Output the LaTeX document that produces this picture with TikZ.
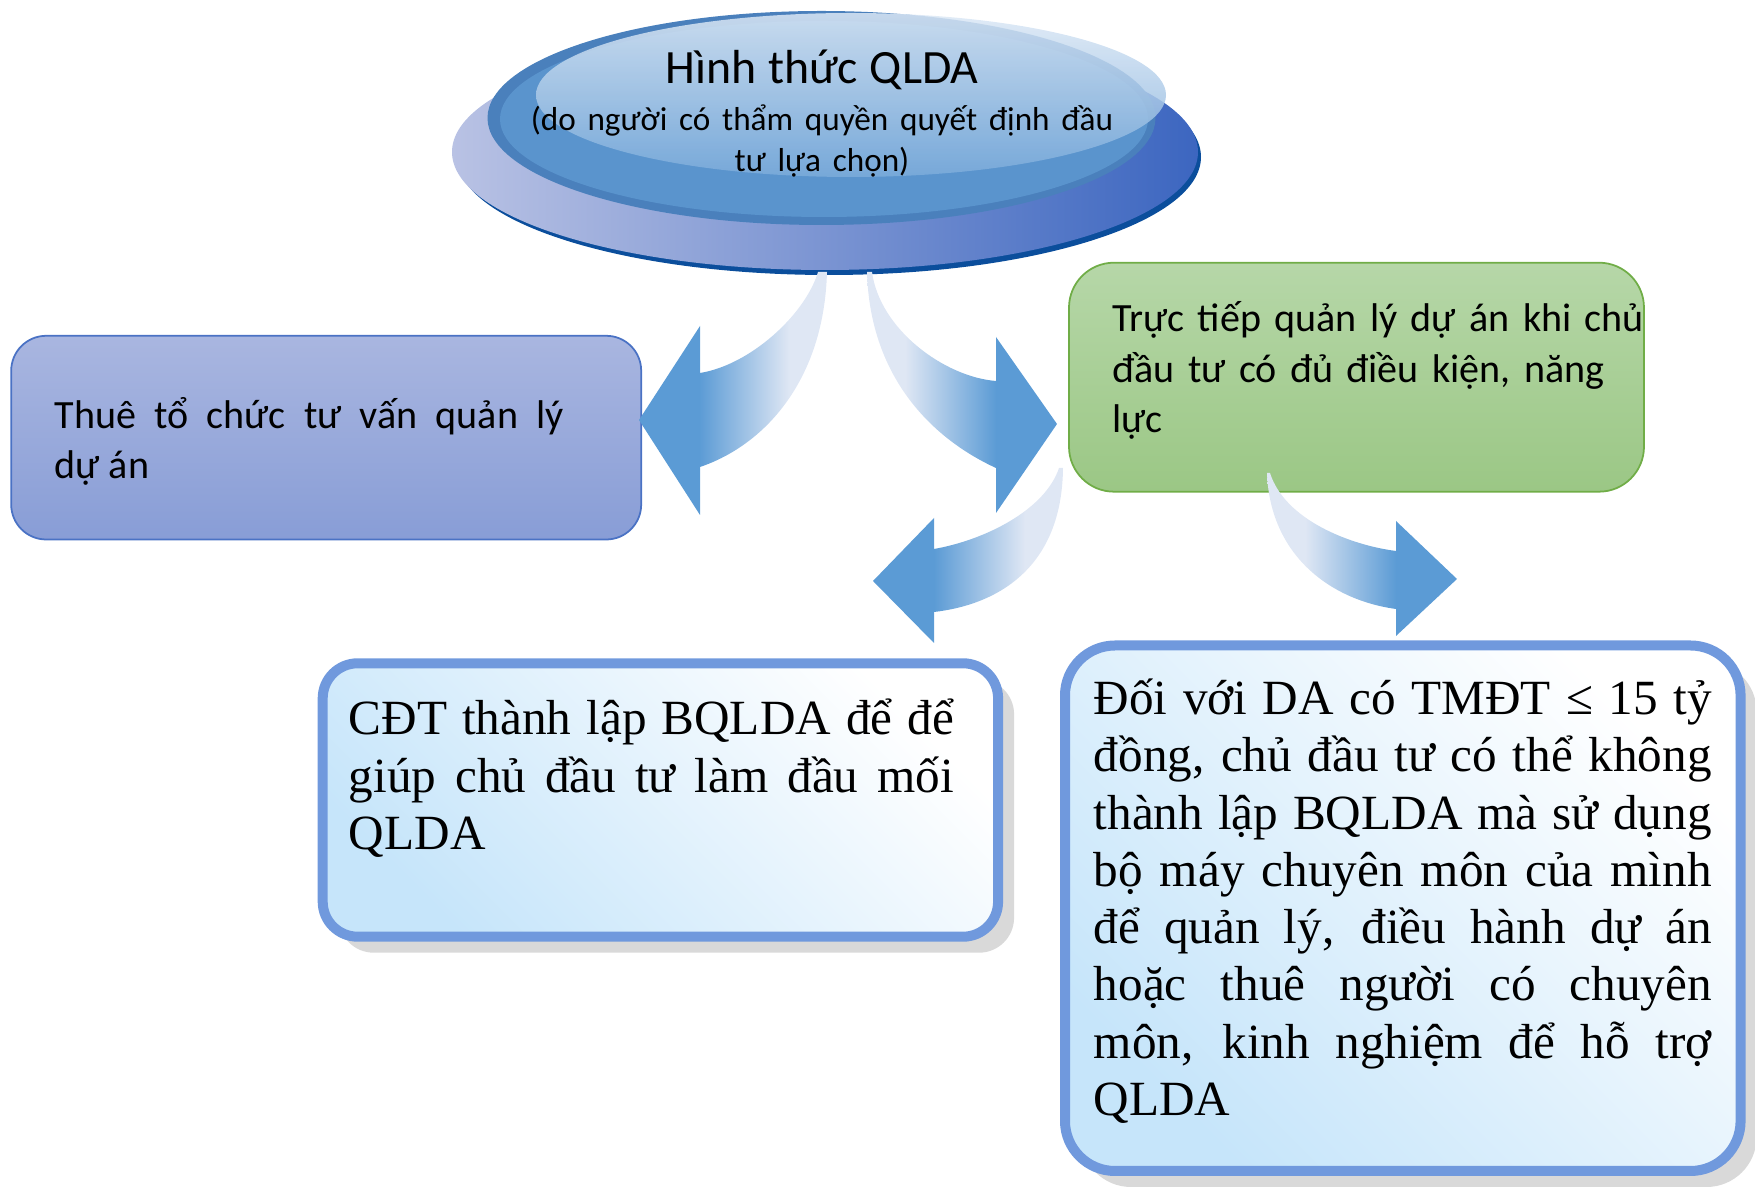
\documentclass[tikz,border=0pt]{standalone}
\usepackage{fontspec}
\setmainfont{Liberation Serif}
\newfontfamily\carlito{Carlito}
\usetikzlibrary{shadows}
\hyphenpenalty=10000
\tolerance=10000

\definecolor{arrhead}{HTML}{5B9BD5}
\definecolor{arrtail}{HTML}{DFE7F4}
\definecolor{lilac}{HTML}{A9B6E0}
\definecolor{lilacdark}{HTML}{889DD6}
\definecolor{lilacline}{HTML}{4A72C4}
\definecolor{leaf}{HTML}{B6D7A8}
\definecolor{leafdark}{HTML}{9BC785}
\definecolor{leafline}{HTML}{70AD47}
\definecolor{frame}{HTML}{7099DD}
\definecolor{icy}{HTML}{C6E5FA}
\definecolor{navy}{HTML}{0B4E9C}
\definecolor{discl}{HTML}{B9C2E4}
\definecolor{discr}{HTML}{3C66C0}
\definecolor{ring}{HTML}{4A80BC}
\definecolor{disc}{HTML}{5A94CD}
\definecolor{glowtop}{HTML}{DCE8F5}
\definecolor{glowbot}{HTML}{7CACDB}

\pgfdeclarehorizontalshading{arrleft}{100bp}{color(0bp)=(arrhead); color(41bp)=(arrhead); color(65bp)=(arrtail); color(100bp)=(arrtail)}
\pgfdeclarehorizontalshading{arrright}{100bp}{color(0bp)=(arrtail); color(35bp)=(arrtail); color(59bp)=(arrhead); color(100bp)=(arrhead)}

\begin{document}
\begin{tikzpicture}[x=0.1mm, y=-0.1mm,
    calib/.style={font=\carlito\fontsize{11.4pt}{14.4pt}\selectfont},
    roman/.style={font=\fontsize{14pt}{16.3pt}\selectfont},
    softbox/.style={draw=#1, line width=0.5pt, anchor=text, inner ysep=0pt, align=justify, calib},
    framebox/.style={draw=frame, line width=1mm, anchor=text, inner ysep=0pt, align=justify, roman,
        top color=white, bottom color=icy, shading angle=-45,
        drop shadow={shadow xshift=1.6mm, shadow yshift=-1.6mm, fill=black!15, opacity=1}}
]
\useasboundingbox (0,0) rectangle (1755,1189);

\fill[navy] (829,157) ellipse [x radius=37.2mm, y radius=11.8mm];
\shade[left color=discl, right color=discr] (825,152) ellipse [x radius=37.3mm, y radius=11.8mm];
\fill[ring] (821.5,118) ellipse [x radius=33.4mm, y radius=10.7mm];
\fill[disc] (824,119) ellipse [x radius=32.4mm, y radius=9.8mm];
\shade[top color=glowtop, bottom color=glowbot, opacity=.85] (851,95) ellipse [x radius=31.5mm, y radius=8.2mm];
\node[anchor=text, text width=70mm, align=center, inner sep=0pt, font=\carlito] (head) at (472,84)
    {\fontsize{13.6pt}{14pt}\selectfont Hình thức QLDA\\ \fontsize{9.45pt}{13.2pt}\selectfont (do người có thẩm quyền quyết định đầu\\[-0.4pt] tư lựa chọn)};

\node[softbox=lilacline, top color=lilac, bottom color=lilacdark, rounded corners=3.5mm,
    text width=54.3mm, inner xsep=4.35mm, text height=9.25mm, text depth=11.12mm] (hire) at (54.7,428.3)
    {\parbox[t]{50.9mm}{Thuê tổ chức tư vấn quản lý\linebreak dự án}};
\node[softbox=leafline, top color=leaf, bottom color=leafdark, rounded corners=4.5mm, align=left,
    text width=48.8mm, inner xsep=4.35mm, text height=6.9mm, text depth=16mm] (self) at (1112.5,331.7)
    {\makebox[\linewidth][l]{Trực tiếp quản lý dự án khi chủ}\\ \makebox[\linewidth][l]{đầu tư có đủ điều kiện, năng}\\ lực};
\node[framebox, rounded corners=3.5mm, text width=62.3mm, inner xsep=2.62mm,
    text height=7.17mm, text depth=20.17mm] (board) at (348.9,735)
    {\parbox[t]{60.5mm}{CĐT thành lập BQLDA để để\linebreak giúp chủ đầu tư làm đầu mối\linebreak QLDA}};
\node[framebox, rounded corners=5mm, text width=61.8mm, inner xsep=2.88mm,
    text height=6.9mm, text depth=45.65mm] (own) at (1093.8,714.5)
    {Đối với DA có TMĐT ≤ 15 tỷ\linebreak đồng, chủ đầu tư có thể không\linebreak thành lập BQLDA mà sử dụng\linebreak bộ máy chuyên môn của mình\linebreak để quản lý, điều hành dự án\linebreak hoặc thuê người có chuyên\linebreak môn, kinh nghiệm để hỗ trợ\linebreak QLDA};

\shade[shading=arrleft] (818,272) .. controls (805,315) and (750,365) .. (700,373) -- (700,326) -- (639,420)
    -- (700,515) -- (700,467) .. controls (765,445) and (824,380) .. (827,272) -- cycle;
\shade[shading=arrright] (872,272) .. controls (880,330) and (945,377) .. (996,381) -- (996,337) -- (1057,424)
    -- (996,513) -- (996,468) .. controls (935,440) and (870,380) .. (867,272) -- cycle;
\shade[shading=arrleft] (1059,468) .. controls (1045,510) and (985,540) .. (934,549) -- (934,518) -- (873,581)
    -- (934,643) -- (934,612) .. controls (995,605) and (1062,570) .. (1063,468) -- cycle;
\shade[shading=arrright] (1270,473) .. controls (1285,520) and (1350,545) .. (1396,551) -- (1396,521) -- (1457,579)
    -- (1396,636) -- (1396,609) .. controls (1330,600) and (1270,555) .. (1267,473) -- cycle;
\end{tikzpicture}
\end{document}
